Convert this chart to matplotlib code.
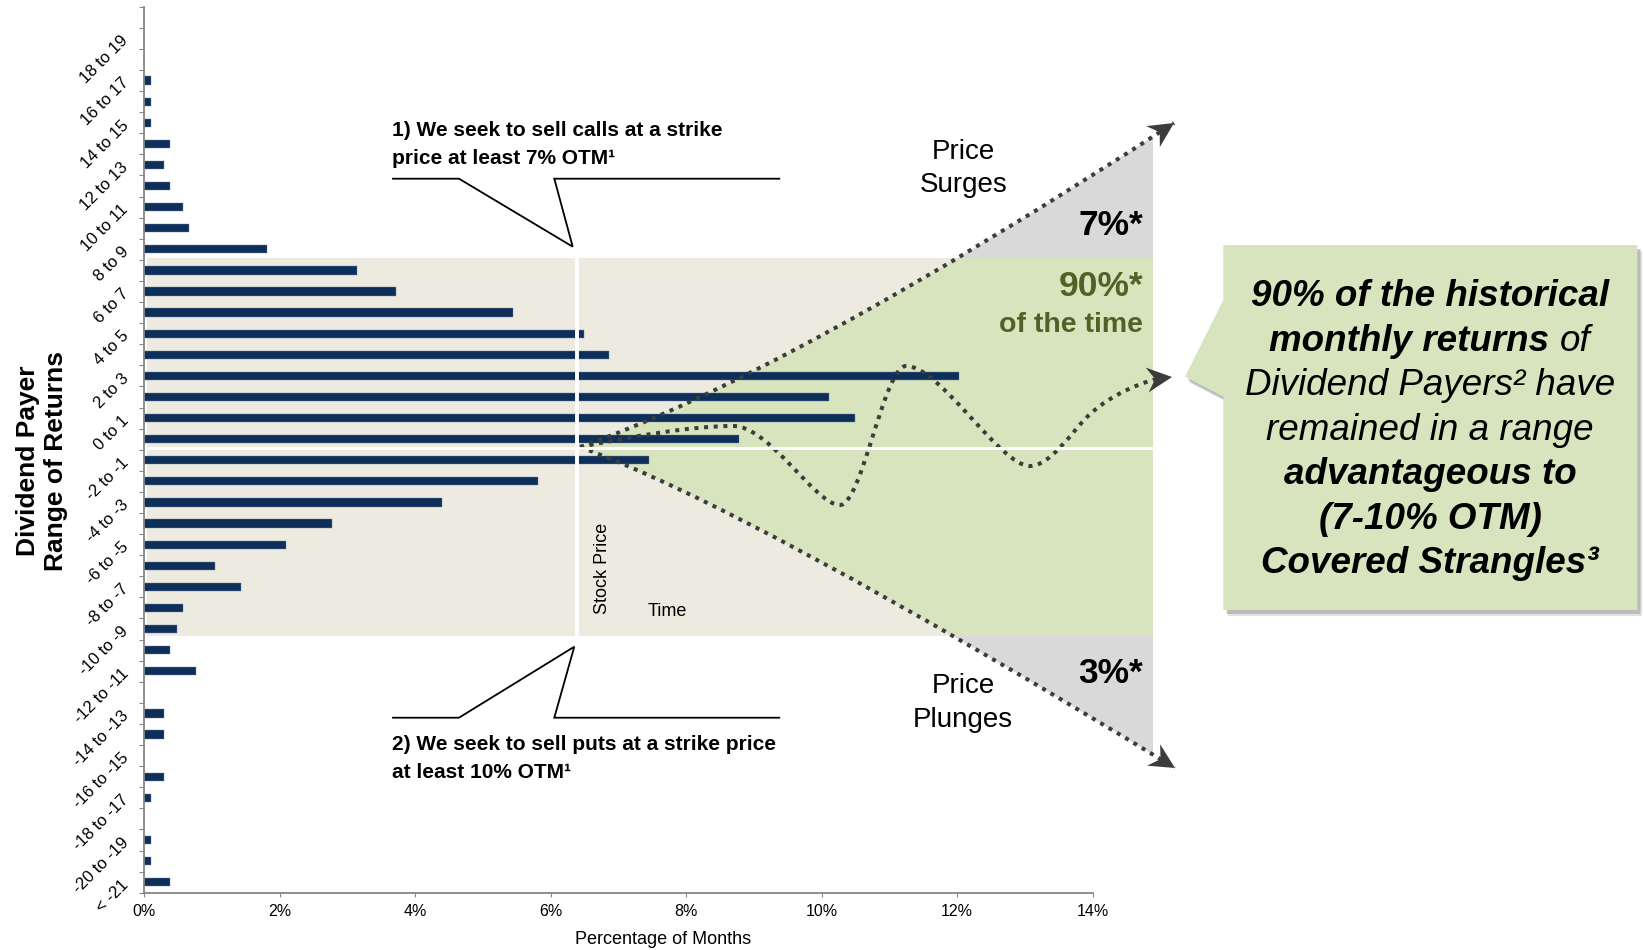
import numpy as np
import matplotlib
matplotlib.use("Agg")
import matplotlib.pyplot as plt
from matplotlib.path import Path
from matplotlib.patches import PathPatch, Polygon, Rectangle

plt.rcParams["font.family"] = ["Liberation Sans", "DejaVu Sans"]

# ====================== data ======================
return_bins = ["< -21"] + [f"{lo} to {lo + 1}" for lo in range(-21, 20)]
pct_of_months = [0.38, 0.10, 0.10, 0.00, 0.10, 0.29, 0.00, 0.29, 0.29, 0.00,
                 0.77, 0.38, 0.48, 0.58, 1.43, 1.05, 2.10, 2.77, 4.40, 5.81,
                 7.45, 8.78, 10.50, 10.11, 12.03, 6.87, 6.49, 5.44, 3.72, 3.15,
                 1.82, 0.67, 0.57, 0.38, 0.29, 0.38, 0.10, 0.10, 0.10, 0.00,
                 0.00, 0.00]
x_ticks = [0, 2, 4, 6, 8, 10, 12, 14]
x_tick_labels = [f"{t}%" for t in x_ticks]

# schematic overlay (figure pixel coords, y down)
band_box = (147, 257.7, 1153, 635.7)          # x0, y0, x1, y1 of the 90% band
cone_upper = [(580, 447), (786, 375), (1174, 123)]
cone_lower = [(580, 447), (749, 508), (1175, 768)]
wave_pts = [(580, 447),
            (630, 437), (690, 426), (733, 426),
            (770, 426), (815, 505), (840, 505),
            (862, 505), (884, 366), (906, 366),
            (940, 366), (1000, 466), (1030, 466),
            (1050, 466), (1072, 432), (1087, 417),
            (1102, 402), (1128, 386), (1160, 378)]
callout_top = [(393, 178.7), (459, 178.7), (572.7, 246.7), (554.3, 178.7), (779.3, 178.7)]
callout_bot = [(393, 717.7), (459, 717.7), (574.3, 646.7), (554.3, 717.7), (779.3, 717.7)]
note_box = [(1223.3, 245), (1637.3, 245), (1637.3, 610), (1223.3, 610),
            (1223.3, 396.7), (1185, 376.7), (1223.3, 300)]

BAR_COLOR = "#0F2F5B"
BEIGE = "#EDEBE0"
GREEN = "#D7E4BD"
GREY = "#D9D9D9"
DOT = "#3C3C3C"
OLIVE = "#4F6228"
AXIS_GREY = "#868686"

W, H = 1643, 950
fig = plt.figure(figsize=(W / 100, H / 100), dpi=100)


def pixel_axes(z):
    a = fig.add_axes([0, 0, 1, 1], zorder=z)
    a.set_xlim(0, W)
    a.set_ylim(H, 0)
    a.axis("off")
    return a


bg = pixel_axes(0)
ax = fig.add_axes([144 / W, 1 - 892.7 / H, (1092.5 - 144) / W, (892.7 - 6.7) / H], zorder=1)
ov = pixel_axes(2)

# ---------------- background band + cone ----------------
x0, y0, x1, y1 = band_box
bg.add_patch(Rectangle((x0, y0), x1 - x0, y1 - y0, fc=BEIGE, ec="none"))
cone_path = Path([cone_upper[0], cone_upper[1], cone_upper[2],
                  cone_lower[2], cone_lower[1], cone_lower[0], cone_lower[0]],
                 [Path.MOVETO, Path.CURVE3, Path.CURVE3, Path.LINETO,
                  Path.CURVE3, Path.CURVE3, Path.CLOSEPOLY])
grey_cone = PathPatch(cone_path, fc=GREY, ec="none")
bg.add_patch(grey_cone)
grey_cone.set_clip_path(Rectangle((0, 0), x1, H, transform=bg.transData))
green_cone = PathPatch(cone_path, fc=GREEN, ec="none")
bg.add_patch(green_cone)
green_cone.set_clip_path(Rectangle((x0, y0), x1 - x0, y1 - y0, transform=bg.transData))

# ---------------- histogram ----------------
ypos = np.arange(len(return_bins))
ax.barh(ypos, pct_of_months, height=0.39, color=BAR_COLOR, edgecolor="#6D84A6", linewidth=0.3)
ax.set_xlim(0, 14)
ax.set_ylim(-0.5, len(return_bins) - 0.5)
ax.patch.set_visible(False)
for s in ["top", "right"]:
    ax.spines[s].set_visible(False)
for s in ["left", "bottom"]:
    ax.spines[s].set_color(AXIS_GREY)
    ax.spines[s].set_linewidth(1.3)

ax.set_xticks(x_ticks)
ax.set_xticklabels(x_tick_labels)
ax.tick_params(axis="x", length=3, color=AXIS_GREY, labelsize=11.5, pad=5)

ax.set_yticks(np.arange(-0.5, len(return_bins), 1.0))
ax.set_yticklabels([])
ax.tick_params(axis="y", which="major", length=3.6, color=AXIS_GREY)
ax.set_yticks(ypos[::2], minor=True)
ax.set_yticklabels(return_bins[::2], minor=True)
ax.tick_params(axis="y", which="minor", length=0, pad=13, labelsize=12)
for lab in ax.get_yticklabels(minor=True):
    lab.set_rotation(45)
    lab.set_rotation_mode("anchor")
    lab.set_ha("right")
    lab.set_va("center")

ax.set_xlabel("Percentage of Months", fontsize=13)
ax.xaxis.set_label_coords((663 - 144) / (1092.5 - 144), (892.7 - 939) / (892.7 - 6.7))
ax.xaxis.label.set_va("center")

ov.text(41.9, 461, "Dividend Payer\nRange of Returns", rotation=90, ha="center",
        va="center", fontsize=19, fontweight="bold", linespacing=1.2)

# ---------------- white guide lines ----------------
ov.plot([576.5, 576.5], [y0, y1], color="white", lw=2.8, solid_capstyle="butt")
ov.plot([x0, x1], [447.5, 447.5], color="white", lw=2.0, solid_capstyle="butt")

# ---------------- dotted cone edges and price path ----------------
dot_style = dict(fill=False, ec=DOT, lw=2.9, ls=(0, (1, 1.4)))
ov.add_patch(PathPatch(Path(cone_upper, [Path.MOVETO, Path.CURVE3, Path.CURVE3]), **dot_style))
ov.add_patch(PathPatch(Path(cone_lower, [Path.MOVETO, Path.CURVE3, Path.CURVE3]), **dot_style))
wave_codes = [Path.MOVETO] + [Path.CURVE4] * (len(wave_pts) - 1)
ov.add_patch(PathPatch(Path(wave_pts, wave_codes), **dot_style))


def arrow_head(tip, direction, L=25, hw=12.5, notch=8):
    tip = np.array(tip, float)
    d = np.array(direction, float)
    d = d / np.hypot(*d)
    n = np.array([-d[1], d[0]])
    pts = [tip, tip - L * d + hw * n, tip - (L - notch) * d, tip - L * d - hw * n]
    ov.add_patch(Polygon(pts, closed=True, fc=DOT, ec="none", zorder=5))


arrow_head(cone_upper[2], np.subtract(cone_upper[2], cone_upper[1]))
arrow_head(cone_lower[2], np.subtract(cone_lower[2], cone_lower[1]))
arrow_head((1172, 377), (1, -0.12))

# ---------------- callouts ----------------
for pts in (callout_top, callout_bot):
    xs, ys = zip(*pts)
    ov.plot(xs, ys, color="black", lw=1.3, solid_joinstyle="miter")

ov.text(391.7, 135.5, "1) We seek to sell calls at a strike", fontsize=15, fontweight="bold", va="baseline")
ov.text(391.7, 163.5, "price at least 7% OTM¹", fontsize=15, fontweight="bold", va="baseline")
ov.text(391.7, 750, "2) We seek to sell puts at a strike price", fontsize=15, fontweight="bold", va="baseline")
ov.text(391.7, 778.5, "at least 10% OTM¹", fontsize=15, fontweight="bold", va="baseline")

ov.text(963.3, 159, "Price", ha="center", va="baseline", fontsize=20)
ov.text(963.3, 191.7, "Surges", ha="center", va="baseline", fontsize=20)
ov.text(963.3, 693.3, "Price", ha="center", va="baseline", fontsize=20)
ov.text(963.3, 726.7, "Plunges", ha="center", va="baseline", fontsize=20)

ov.text(1143.3, 235, "7%*", ha="right", va="baseline", fontsize=25.5, fontweight="bold")
ov.text(1143.3, 296, "90%*", ha="right", va="baseline", fontsize=25.5, fontweight="bold", color=OLIVE)
ov.text(1143.3, 332.3, "of the time", ha="right", va="baseline", fontsize=20.5, fontweight="bold", color=OLIVE)
ov.text(1143.3, 682.7, "3%*", ha="right", va="baseline", fontsize=25.5, fontweight="bold")

ov.text(602.5, 614.3, "Stock Price", rotation=90, ha="center", va="bottom", fontsize=13)
ov.text(667.5, 611, "Time", ha="center", va="center", fontsize=13)

# ---------------- right note box ----------------
for off, alpha in ((6, 0.25), (4, 0.45)):
    shadow = [(px + off * 0.8, py + off) for px, py in note_box]
    ov.add_patch(Polygon(shadow, closed=True, fc="#8C8C8C", ec="none", alpha=alpha, zorder=3))
ov.add_patch(Polygon(note_box, closed=True, fc=GREEN, ec="none", zorder=4))

note_lines = [
    [("90% of the historical", "bold")],
    [("monthly returns", "bold"), ("of", "normal")],
    [("Dividend Payers² have", "normal")],
    [("remained in a range", "normal")],
    [("advantageous to", "bold")],
    [("(7-10% OTM)", "bold")],
    [("Covered Strangles³", "bold")],
]
note_cx, note_base, note_step, note_size = 1430, 306, 44.55, 26.5

renderer = fig.canvas.get_renderer()


def text_width(s, weight):
    t = ov.text(0, 0, s, fontsize=note_size, fontstyle="italic", fontweight=weight)
    w = t.get_window_extent(renderer).width
    t.remove()
    return w


space_w = text_width("a a", "normal") - text_width("aa", "normal")
for i, pieces in enumerate(note_lines):
    yb = note_base + i * note_step
    widths = [text_width(s, wt) for s, wt in pieces]
    total = sum(widths) + space_w * (len(pieces) - 1)
    xl = note_cx - total / 2
    for (s, wt), w in zip(pieces, widths):
        ov.text(xl, yb, s, fontsize=note_size, fontstyle="italic", fontweight=wt,
                va="baseline", ha="left", zorder=6)
        xl += w + space_w

fig.savefig("out.png", dpi=100)
